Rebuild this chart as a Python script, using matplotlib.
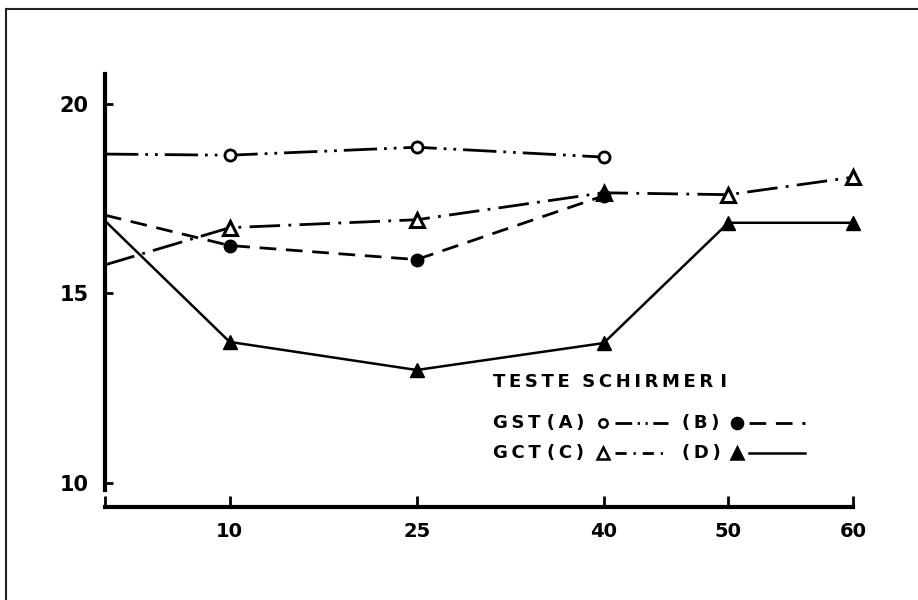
import matplotlib
matplotlib.use("Agg")
import matplotlib.pyplot as plt
from matplotlib.lines import Line2D

# Data (x = time, y = Schirmer value)
x_ab = [0, 10, 25, 40]
gst_a = [18.67, 18.64, 18.85, 18.59]
gst_b = [17.06, 16.26, 15.89, 17.57]

x_cd = [0, 10, 25, 40, 50, 60]
gct_c = [15.75, 16.73, 16.94, 17.65, 17.60, 18.06]
gct_d = [16.91, 13.72, 12.98, 13.69, 16.86, 16.86]

x_ticks = [0, 10, 25, 40, 50, 60]
x_labels = ["", "10", "25", "40", "50", "60"]
y_ticks = [10, 15, 20]
y_labels = ["10", "15", "20"]

FS = 14
plt.rcParams["font.family"] = "DejaVu Sans"

W, H = 918, 600
fig = plt.figure(figsize=(W / 100, H / 100), dpi=100)
fig.patch.set_facecolor("white")

def fx(px):
    return px / W

def fy(py):
    return 1 - py / H

ax = fig.add_axes([fx(105), fy(507), fx(853) - fx(105), fy(74) - fy(507)])
ax.set_xlim(0, 60)
ax.set_ylim(9.37, 20.78)

# line styles (pattern in linewidth units)
st_a = dict(color="black", lw=2.0, linestyle=(0, (12, 2.5, 1, 2.5, 1, 2.5)))
st_b = dict(color="black", lw=2.0, linestyle=(0, (6, 3.5)))
st_c = dict(color="black", lw=2.0, linestyle=(0, (11, 3, 1, 3)))
st_d = dict(color="black", lw=1.8, linestyle="-")

ax.plot(x_ab, gst_a, **st_a, zorder=2)
ax.plot(x_ab, gst_b, **st_b, zorder=2)
ax.plot(x_cd, gct_c, **st_c, zorder=2)
ax.plot(x_cd, gct_d, **st_d, zorder=2)

# markers (no marker on the axis start point)
ax.plot(x_ab[1:], gst_a[1:], "o", ms=8, mfc="white", mec="black", mew=2.0,
        linestyle="none", zorder=4, clip_on=False)
ax.plot(x_cd[1:], gct_c[1:], "^", ms=10, mfc="white", mec="black", mew=2.2,
        linestyle="none", zorder=4, clip_on=False)
ax.plot(x_ab[1:], gst_b[1:], "o", ms=9, mfc="black", mec="black",
        linestyle="none", zorder=5, clip_on=False)
ax.plot(x_cd[1:], gct_d[1:], "^", ms=10, mfc="black", mec="black",
        linestyle="none", zorder=5, clip_on=False)

# axes styling
for s in ["top", "right"]:
    ax.spines[s].set_visible(False)
ax.spines["left"].set_linewidth(3.0)
ax.spines["bottom"].set_linewidth(3.0)
ax.spines["left"].set_bounds(9.82, 20.78)
ax.set_xticks(x_ticks)
ax.set_xticklabels(x_labels)
ax.set_yticks(y_ticks)
ax.set_yticklabels(y_labels)
ax.tick_params(axis="x", direction="in", length=8, width=2.0, pad=11,
               labelsize=FS)
ax.tick_params(axis="y", direction="in", length=6, width=2.0, pad=12,
               labelsize=FS + 1)
for lab in ax.get_xticklabels() + ax.get_yticklabels():
    lab.set_fontweight("bold")

# frame of the scanned page (left and top edges)
fig.add_artist(Line2D([fx(6), fx(6)], [fy(9), 0], transform=fig.transFigure,
                      color="#222222", lw=1.5))
fig.add_artist(Line2D([fx(6), 1], [fy(9), fy(9)], transform=fig.transFigure,
                      color="#222222", lw=1.5))

# hand-lettered legend (thin spaces mimic the wide lettering)
T = "\u2009"
def spaced(s):
    return " ".join(T.join(w) for w in s.split(" "))

tkw = dict(transform=fig.transFigure, fontsize=FS - 1, fontweight="bold",
           va="center", ha="left")
fig.text(fx(493), fy(382), spaced("TESTE  SCHIRMER") + T + T + "I", **tkw)
fig.text(fx(493), fy(423), spaced("GST (A)"), **tkw)
fig.text(fx(493), fy(453), spaced("GCT (C)"), **tkw)
fig.text(fx(682), fy(423), spaced("(B)"), **tkw)
fig.text(fx(682), fy(453), spaced("(D)"), **tkw)

# shorter patterns so the small samples read like the hand-drawn key
key_a = dict(st_a, linestyle=(0, (6, 2, 0.8, 2, 0.8, 2)))
key_c = dict(st_c, linestyle=(0, (4, 2.5, 0.8, 2.5)))

def sample(x0, x1, y, mk, style, mfc, ms):
    fig.add_artist(Line2D([fx(x0 + 12), fx(x1)], [fy(y), fy(y)],
                          transform=fig.transFigure, **style))
    fig.add_artist(Line2D([fx(x0)], [fy(y)], transform=fig.transFigure,
                          marker=mk, ms=ms, mfc=mfc, mec="black", mew=1.8,
                          linestyle="none"))

sample(603, 668, 423, "o", key_a, "white", 6)
sample(603, 668, 453, "^", key_c, "white", 8)
sample(737, 805, 423, "o", st_b, "black", 8)
sample(737, 805, 453, "^", st_d, "black", 9)

fig.savefig("out.png", dpi=100, facecolor="white")
